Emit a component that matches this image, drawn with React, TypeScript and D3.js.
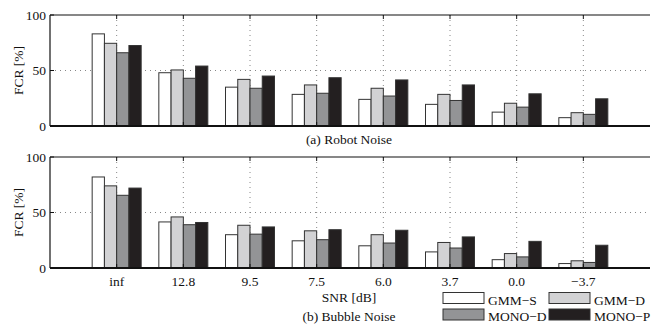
import { useEffect, useRef } from "react";
import * as d3 from "d3";

const categories = ["inf", "12.8", "9.5", "7.5", "6.0", "3.7", "0.0", "\u22123.7"];
const seriesNames = ["GMM\u2212S", "GMM\u2212D", "MONO\u2212D", "MONO\u2212P"];
const seriesColors = ["#ffffff", "#d2d2d4", "#939496", "#231f20"];

// (a) Robot Noise
const robotGmmS = [83, 48, 35, 28.5, 24, 19.5, 12.5, 7.5];
const robotGmmD = [74.5, 50.5, 42, 37, 34, 28.5, 20.5, 12];
const robotMonoD = [66, 43, 34, 29.5, 27, 23, 17, 10.5];
const robotMonoP = [72.5, 54, 45, 43.5, 41.5, 37, 29, 24.5];

// (b) Bubble Noise
const bubbleGmmS = [82, 41.5, 30, 24.5, 20, 14.5, 7.5, 4];
const bubbleGmmD = [74, 46, 38.5, 33.5, 30, 23, 13, 6.5];
const bubbleMonoD = [65.5, 39, 30.5, 25.5, 22.5, 18, 10, 5];
const bubbleMonoP = [72, 41, 37, 34.5, 34, 28, 24, 20.5];

const yTicks = [0, 50, 100];

export default function App() {
  const ref = useRef<HTMLDivElement>(null);

  useEffect(() => {
    const width = 651;
    const height = 324;
    const font = "'Liberation Serif', 'Times New Roman', serif";
    const fs = 13.5;

    const svg = d3
      .select(ref.current)
      .append("svg")
      .attr("width", width)
      .attr("height", height)
      .style("position", "absolute")
      .style("left", 0)
      .style("top", 0)
      .style("font-family", font);

    const x = d3.scaleLinear().domain([0, 9]).range([50, 650]);
    const groupW = 49;
    const barW = groupW / 4;

    const panels = [
      { top: 15, bottom: 126, data: [robotGmmS, robotGmmD, robotMonoD, robotMonoP], title: "(a) Robot Noise", titleY: 144, labels: false },
      { top: 157, bottom: 268, data: [bubbleGmmS, bubbleGmmD, bubbleMonoD, bubbleMonoP], title: "(b) Bubble Noise", titleY: 321, labels: true },
    ];

    panels.forEach((p) => {
      const y = d3.scaleLinear().domain([0, 100]).range([p.bottom, p.top]);
      const g = svg.append("g");

      // dotted grid
      g.append("line")
        .attr("x1", x(0)).attr("x2", x(9))
        .attr("y1", y(50)).attr("y2", y(50))
        .attr("stroke", "#888").attr("stroke-width", 1).attr("stroke-dasharray", "1,4");
      categories.forEach((_, i) => {
        g.append("line")
          .attr("x1", x(i + 1)).attr("x2", x(i + 1))
          .attr("y1", y(100)).attr("y2", y(0))
          .attr("stroke", "#888").attr("stroke-width", 1).attr("stroke-dasharray", "1,4");
      });

      // bars
      p.data.forEach((vals, s) => {
        g.append("g")
          .selectAll("rect")
          .data(vals)
          .enter()
          .append("rect")
          .attr("x", (_, i) => x(i + 1) - groupW / 2 + s * barW)
          .attr("y", (d) => y(d))
          .attr("width", barW)
          .attr("height", (d) => y(0) - y(d))
          .attr("fill", seriesColors[s])
          .attr("stroke", "#333")
          .attr("stroke-width", 1);
      });

      // frame
      g.append("line").attr("x1", x(0)).attr("x2", x(9)).attr("y1", y(100)).attr("y2", y(100)).attr("stroke", "#111").attr("stroke-width", 1.2);
      g.append("line").attr("x1", x(0)).attr("x2", x(0)).attr("y1", y(100)).attr("y2", y(0)).attr("stroke", "#111").attr("stroke-width", 1.2);
      g.append("line").attr("x1", x(0)).attr("x2", x(9)).attr("y1", y(0)).attr("y2", y(0)).attr("stroke", "#111").attr("stroke-width", 1.8);

      // x ticks
      categories.forEach((_, i) => {
        g.append("line").attr("x1", x(i + 1)).attr("x2", x(i + 1)).attr("y1", y(0)).attr("y2", y(0) - 4).attr("stroke", "#111");
        g.append("line").attr("x1", x(i + 1)).attr("x2", x(i + 1)).attr("y1", y(100)).attr("y2", y(100) + 4).attr("stroke", "#111");
      });

      // y ticks
      yTicks.forEach((t) => {
        g.append("line").attr("x1", x(0)).attr("x2", x(0) + 4).attr("y1", y(t)).attr("y2", y(t)).attr("stroke", "#111");
        g.append("text")
          .attr("x", x(0) - 4)
          .attr("y", y(t))
          .attr("dy", "0.35em")
          .attr("text-anchor", "end")
          .attr("font-size", fs)
          .attr("fill", "#111")
          .text(t);
      });

      g.append("text")
        .attr("transform", `translate(18,${(y(0) + y(100)) / 2}) rotate(-90)`)
        .attr("dy", "0.35em")
        .attr("text-anchor", "middle")
        .attr("font-size", fs)
        .attr("fill", "#111")
        .text("FCR [%]");

      if (p.labels) {
        categories.forEach((c, i) => {
          g.append("text")
            .attr("x", x(i + 1))
            .attr("y", y(0) + 18)
            .attr("text-anchor", "middle")
            .attr("font-size", fs)
            .attr("fill", "#111")
            .text(c);
        });
        g.append("text")
          .attr("x", 349)
          .attr("y", 302)
          .attr("text-anchor", "middle")
          .attr("font-size", fs)
          .attr("fill", "#111")
          .text("SNR [dB]");
      }

      g.append("text")
        .attr("x", 349)
        .attr("y", p.titleY)
        .attr("text-anchor", "middle")
        .attr("font-size", fs)
        .attr("fill", "#111")
        .text(p.title);
    });

    // legend
    const legendPos = [
      [443, 292.5],
      [549, 292.5],
      [443, 309],
      [549, 309],
    ];
    seriesNames.forEach((name, s) => {
      const [lx, ly] = legendPos[s];
      svg.append("rect")
        .attr("x", lx).attr("y", ly).attr("width", 41).attr("height", 11)
        .attr("fill", seriesColors[s]).attr("stroke", "#333").attr("stroke-width", 1);
      svg.append("text")
        .attr("x", lx + 45).attr("y", ly + 12)
        .attr("font-size", fs).attr("fill", "#111")
        .text(name);
    });

    return () => {
      d3.select(ref.current).selectAll("*").remove();
    };
  }, []);

  return <div ref={ref} />;
}
